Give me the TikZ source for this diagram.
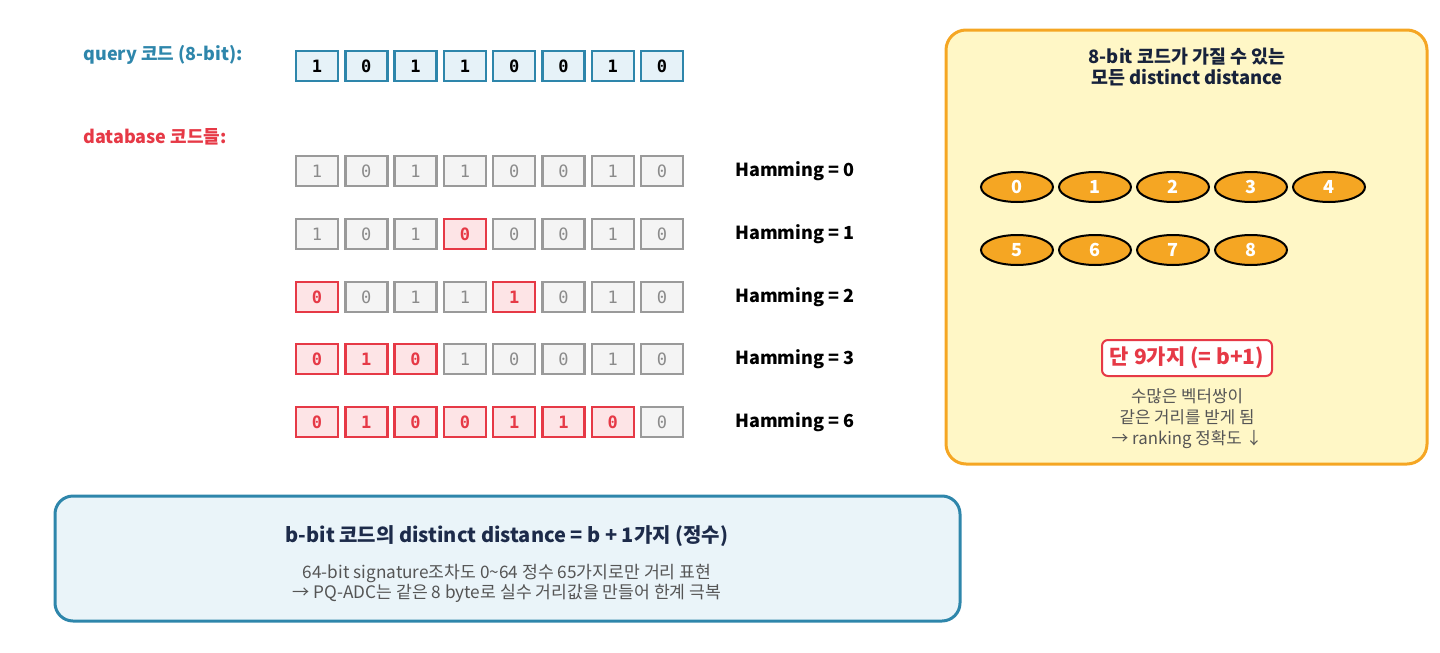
\documentclass[tikz,border=0pt]{standalone}
\usepackage{fontspec}
\setmainfont{Noto Sans CJK KR}
\newfontfamily\bitfont{DejaVu Sans Mono}
\usetikzlibrary{shapes.geometric,positioning}
\definecolor{qblue}{HTML}{2E86AB}
\definecolor{qfill}{HTML}{E6F2F8}
\definecolor{dred}{HTML}{E63946}
\definecolor{rfill}{HTML}{FDE4E6}
\definecolor{ggray}{HTML}{9A9A9A}
\definecolor{gfill}{HTML}{F4F4F4}
\definecolor{panelfill}{HTML}{FFF7C6}
\definecolor{panelline}{HTML}{F5A623}
\definecolor{notefill}{HTML}{EAF4F9}
\definecolor{navy}{HTML}{1D2B4A}
\definecolor{txtgray}{HTML}{555555}
\tikzset{bitbox/.style={draw, line width=1.2pt, minimum width=21pt, minimum height=15pt, inner sep=0pt, font=\bitfont\fontsize{8.5}{10}\selectfont}}
\tikzset{qbit/.style={bitbox, draw=qblue, fill=qfill, font=\bitfont\bfseries\fontsize{8.5}{10}\selectfont}}
\tikzset{dbbitg/.style={bitbox, draw=ggray, fill=gfill, text=ggray!90!black}}
\tikzset{dbbitr/.style={bitbox, draw=dred, fill=rfill, text=dred, font=\bitfont\bfseries\fontsize{8.5}{10}\selectfont}}
\tikzset{hamlbl/.style={anchor=west, inner sep=0pt, font=\bfseries\fontsize{9}{11}\selectfont}}
\tikzset{distnum/.style={ellipse, draw=black, line width=1pt, fill=panelline, minimum width=36pt, minimum height=15pt, inner sep=0pt, text=white, font=\bfseries\fontsize{9}{10}\selectfont}}

\begin{document}
\begin{tikzpicture}[x=0.5pt, y=-0.5pt]
    \useasboundingbox (0, 0) rectangle (1440, 653);
    \node[anchor=west, inner sep=0pt, text=qblue, font=\bfseries\fontsize{9}{11}\selectfont] (qlbl) at (83, 55) {query 코드 (8-bit):};
    \node[anchor=west, inner sep=0pt, text=dred, font=\bfseries\fontsize{9}{11}\selectfont] (dblbl) at (83, 137) {database 코드들:};

    \foreach \b [count=\i] in {1,0,1,1,0,0,1,0}
        \node[qbit] (q\i) at (317 + 49.3*\i - 49.3, 66) {\b};

    \foreach \row/\y/\h/\bits in {
        0/171/0/{1/g,0/g,1/g,1/g,0/g,0/g,1/g,0/g},
        1/234/1/{1/g,0/g,1/g,0/r,0/g,0/g,1/g,0/g},
        2/297/2/{0/r,0/g,1/g,1/g,1/r,0/g,1/g,0/g},
        3/359/3/{0/r,1/r,0/r,1/g,0/g,0/g,1/g,0/g},
        4/422/6/{0/r,1/r,0/r,0/r,1/r,1/r,0/r,0/g}} {
        \foreach \b/\f [count=\i] in \bits
            \node[dbbit\f] (d\row-\i) at (317 + 49.3*\i - 49.3, \y) {\b};
        \node[hamlbl] (h\row) at (735, \y) {Hamming = \h};
    }

    \draw[panelline, line width=1.5pt, fill=panelfill, rounded corners=10pt] (946, 30) rectangle (1427, 464);
    \node[align=center, text=navy!80!black, font=\bfseries\fontsize{9.2}{10.8}\selectfont] (ptitle) at (1187, 67) {8-bit 코드가 가질 수 있는\\모든 distinct distance};
    \foreach \n in {0,...,4}
        \node[distnum] (e\n) at (1017 + 78*\n, 187) {\n};
    \foreach \n in {5,...,8}
        \node[distnum] (e\n) at (1017 + 78*\n - 390, 250) {\n};
    \node[draw=dred, line width=1pt, fill=white, rounded corners=3pt, text=dred, minimum width=85pt, minimum height=18pt, font=\bfseries\fontsize{10.5}{12}\selectfont] (only) at (1187, 358) {단 9가지 (= b+1)};
    \node[align=center, text=txtgray, font=\fontsize{8.4}{10.5}\selectfont] (pnote) at (1187, 419) {수많은 벡터쌍이\\같은 거리를 받게 됨\\→ ranking 정확도 ↓};

    \draw[qblue, line width=1.5pt, fill=notefill, rounded corners=9pt] (55, 496) rectangle (960, 621);
    \node[text=navy, font=\bfseries\fontsize{10}{12}\selectfont] (ntitle) at (507, 536) {b-bit 코드의 distinct distance = b + 1가지 (정수)};
    \node[align=center, text=txtgray, font=\fontsize{8.6}{10}\selectfont] (nbody) at (507, 583) {64-bit signature조차도 0\textasciitilde 64 정수 65가지로만 거리 표현\\→ PQ-ADC는 같은 8 byte로 실수 거리값을 만들어 한계 극복};
\end{tikzpicture}
\end{document}
